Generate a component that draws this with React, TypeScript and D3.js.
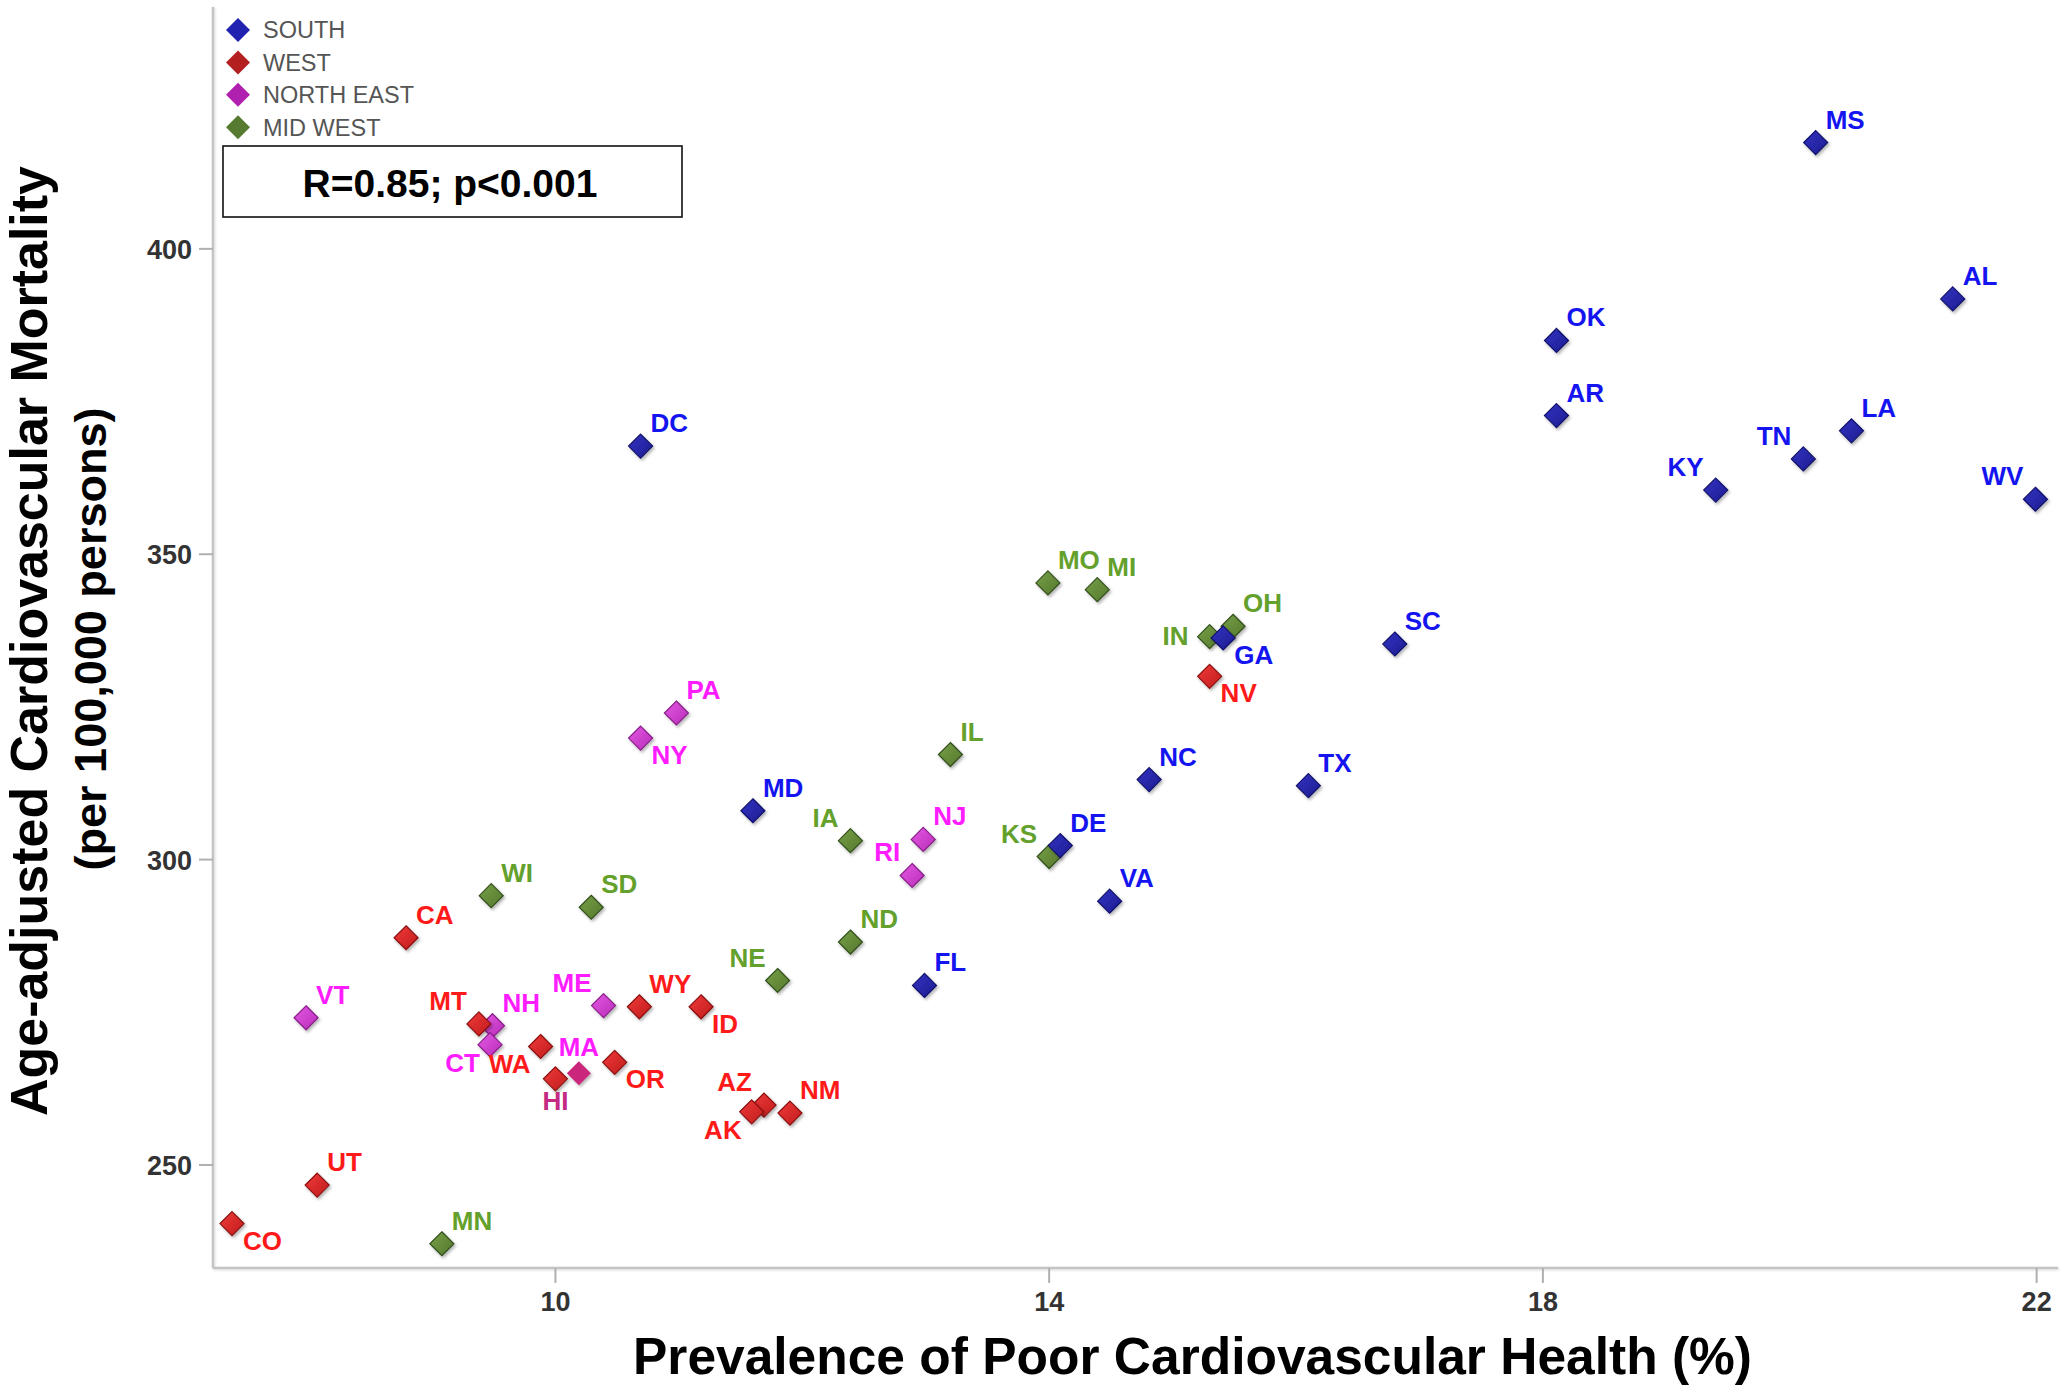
import React from "react";
import * as d3 from "d3";

// ---------- DATA ----------
const regions = ["SOUTH", "WEST", "NORTH EAST", "MID WEST"];

const southStates = ["MS", "AL", "OK", "AR", "LA", "TN", "KY", "WV", "DC", "SC", "GA", "NC", "TX", "DE", "VA", "MD", "FL"];
const southPrevalence = [20.21, 21.32, 18.11, 18.11, 20.5, 20.11, 19.4, 21.99, 10.69, 16.8, 15.41, 14.81, 16.1, 14.09, 14.49, 11.6, 12.99];
const southMortality = [417.4, 391.8, 385.0, 372.7, 370.2, 365.6, 360.5, 359.0, 367.7, 335.3, 336.3, 313.1, 312.1, 302.3, 293.2, 308.0, 279.4];

const westStates = ["NV", "CA", "MT", "WA", "HI", "WY", "ID", "OR", "AZ", "AK", "NM", "UT", "CO"];
const westPrevalence = [15.3, 8.79, 9.38, 9.88, 10.0, 10.68, 11.18, 10.48, 11.69, 11.59, 11.9, 8.07, 7.38];
const westMortality = [330.0, 287.2, 273.1, 269.4, 264.1, 275.9, 275.9, 266.8, 259.8, 258.7, 258.5, 246.7, 240.4];

const northEastStates = ["VT", "NH", "CT", "MA", "ME", "PA", "NY", "NJ", "RI"];
const northEastPrevalence = [7.98, 9.49, 9.47, 10.19, 10.39, 10.98, 10.69, 12.98, 12.89];
const northEastMortality = [274.1, 272.8, 269.7, 265.0, 276.1, 324.0, 319.9, 303.3, 297.4];

const midWestStates = ["MO", "MI", "IN", "OH", "IL", "IA", "KS", "WI", "SD", "ND", "NE", "MN"];
const midWestPrevalence = [13.99, 14.39, 15.3, 15.49, 13.2, 12.39, 14.0, 9.48, 10.29, 12.39, 11.8, 9.08];
const midWestMortality = [345.3, 344.2, 336.5, 338.2, 317.2, 303.1, 300.5, 294.1, 292.2, 286.5, 280.2, 237.1];

const xTicks = [10, 14, 18, 22];
const yTicks = [250, 300, 350, 400];

const xTitle = "Prevalence of Poor Cardiovascular Health (%)";
const yTitle1 = "Age-adjusted Cardiovascular Mortality";
const yTitle2 = "(per 100,000 persons)";
const statText = "R=0.85; p<0.001";

// ---------- LAYOUT / STYLE ----------
const W = 2070;
const H = 1387;
const FONT = "'Liberation Sans', Arial, Helvetica, sans-serif";

const regionStyle: Record<string, { light: string; dark: string; edge: string; label: string; legend: string }> = {
  SOUTH: { light: "#3434c4", dark: "#1c1c90", edge: "#12126a", label: "#1414f0", legend: "#2222b0" },
  WEST: { light: "#f03a3a", dark: "#c01c1c", edge: "#8a1212", label: "#ff1a1a", legend: "#b42020" },
  "NORTH EAST": { light: "#e45ae4", dark: "#b82cb8", edge: "#8a1e8a", label: "#ff1cff", legend: "#b020b0" },
  "MID WEST": { light: "#78a048", dark: "#54782c", edge: "#33501c", label: "#64a02c", legend: "#557a30" },
};

const fillOverride: Record<string, string> = { MA: "#c9287c" };
const labelColorOverride: Record<string, string> = { HI: "#c42a82" };

const sides: Record<string, { dx: number; dy: number; anchor: string }> = {
  ne: { dx: 10, dy: -14, anchor: "start" },
  nw: { dx: -12, dy: -14, anchor: "end" },
  se: { dx: 11, dy: 26, anchor: "start" },
  sw: { dx: -10, dy: 27, anchor: "end" },
  n: { dx: 0, dy: -17, anchor: "middle" },
  s: { dx: 0, dy: 31, anchor: "middle" },
  w: { dx: -21, dy: 8, anchor: "end" },
};
const labelSide: Record<string, string> = {
  IA: "nw", RI: "nw", NE: "nw", MT: "nw", ME: "nw", AZ: "nw", KS: "nw", TN: "nw", KY: "nw", WV: "nw",
  NY: "se", ID: "se", OR: "se", CO: "se", GA: "se", NV: "se",
  CT: "sw", WA: "sw", AK: "sw",
  MA: "n", HI: "s", IN: "w",
};

const plot = { left: 213, right: 2058, top: 7, bottom: 1268 };

type Pt = { state: string; x: number; y: number; region: string };

function build(region: string, s: string[], xs: number[], ys: number[]): Pt[] {
  return s.map((st, i) => ({ state: st, x: xs[i], y: ys[i], region }));
}

const points: Pt[] = [
  ...build("MID WEST", midWestStates, midWestPrevalence, midWestMortality),
  ...build("NORTH EAST", northEastStates, northEastPrevalence, northEastMortality),
  ...build("WEST", westStates, westPrevalence, westMortality),
  ...build("SOUTH", southStates, southPrevalence, southMortality),
];

const R = 12;
const diamond = `M0,${-R}L${R},0L0,${R}L${-R},0Z`;

export default function App() {
  const x = d3.scaleLinear().domain([7.226, 22.173]).range([plot.left, plot.right]);
  const y = d3.scaleLinear().domain([233.13, 439.6]).range([plot.bottom, plot.top]);

  const gradId = (r: string) => "g-" + r.replace(/\s/g, "");

  // draw MA/HI so MA sits on top
  const ordered = [...points].sort((a, b) => (a.state === "MA" ? 1 : 0) - (b.state === "MA" ? 1 : 0));

  return (
    <svg
      width={W}
      height={H}
      viewBox={`0 0 ${W} ${H}`}
      style={{ position: "absolute", left: 0, top: 0, background: "#fff" }}
      fontFamily={FONT}
    >
      <defs>
        {regions.map((r) => (
          <linearGradient key={r} id={gradId(r)} x1="0" y1="0" x2="1" y2="1">
            <stop offset="0" stopColor={regionStyle[r].light} />
            <stop offset="1" stopColor={regionStyle[r].dark} />
          </linearGradient>
        ))}
        <filter id="shadow" x="-50%" y="-50%" width="200%" height="200%">
          <feDropShadow dx="1.5" dy="2" stdDeviation="1.6" floodColor="#000" floodOpacity="0.3" />
        </filter>
        <filter id="axshadow" x="-50%" y="-5%" width="200%" height="110%">
          <feDropShadow dx="1" dy="1" stdDeviation="0.8" floodColor="#000" floodOpacity="0.15" />
        </filter>
      </defs>
      <rect x={0} y={0} width={W} height={H} fill="#fff" />

      {/* axes */}
      <g filter="url(#axshadow)">
        <line x1={plot.left} x2={plot.left} y1={plot.top} y2={plot.bottom} stroke="#c4c4c4" strokeWidth={2.5} />
        <line x1={plot.left} x2={plot.right} y1={plot.bottom} y2={plot.bottom} stroke="#c4c4c4" strokeWidth={2.5} />
      </g>
      {yTicks.map((t) => (
        <g key={"yt" + t}>
          <line x1={plot.left - 14} x2={plot.left} y1={y(t)} y2={y(t)} stroke="#b0b0b0" strokeWidth={2} />
          <text x={192} y={y(t) + 10} textAnchor="end" fontSize={27} fontWeight="bold" fill="#333">
            {t}
          </text>
        </g>
      ))}
      {xTicks.map((t) => (
        <g key={"xt" + t}>
          <line x1={x(t)} x2={x(t)} y1={plot.bottom} y2={plot.bottom + 15} stroke="#b0b0b0" strokeWidth={2} />
          <text x={x(t)} y={1310.7} textAnchor="middle" fontSize={27} fontWeight="bold" fill="#333">
            {t}
          </text>
        </g>
      ))}

      {/* axis titles */}
      <text x={633} y={1374} fontSize={52} fontWeight="bold" fill="#000" textLength={1119} lengthAdjust="spacingAndGlyphs">
        {xTitle}
      </text>
      <text
        transform={`translate(47,641) rotate(-90)`}
        textAnchor="middle"
        fontSize={52}
        fontWeight="bold"
        fill="#000"
        textLength={950}
        lengthAdjust="spacingAndGlyphs"
      >
        {yTitle1}
      </text>
      <text
        transform={`translate(105.5,639) rotate(-90)`}
        textAnchor="middle"
        fontSize={45}
        fontWeight="bold"
        fill="#000"
        textLength={463}
        lengthAdjust="spacingAndGlyphs"
      >
        {yTitle2}
      </text>

      {/* legend */}
      {regions.map((r, i) => {
        const cy = 30 + i * 32.4;
        return (
          <g key={"lg" + r}>
            <path d={diamond} transform={`translate(238,${cy})`} fill={regionStyle[r].legend} />
            <text x={263} y={cy + 8.4} fontSize={23.5} fill="#555">
              {r}
            </text>
          </g>
        );
      })}
      <rect x={223} y={146} width={459} height={71} fill="#fff" stroke="#111" strokeWidth={1.6} />
      <text x={450} y={196.7} textAnchor="middle" fontSize={39} fontWeight="bold" fill="#000">
        {statText}
      </text>

      {/* points */}
      {ordered.map((p) => (
        <path
          key={"pt" + p.state}
          d={diamond}
          transform={`translate(${x(p.x)},${y(p.y)})`}
          fill={fillOverride[p.state] || `url(#${gradId(p.region)})`}
          stroke={fillOverride[p.state] ? "none" : regionStyle[p.region].edge}
          strokeWidth={1.2}
          filter="url(#shadow)"
        />
      ))}

      {/* labels */}
      {points.map((p) => {
        const s = sides[labelSide[p.state] || "ne"];
        return (
          <text
            key={"lb" + p.state}
            x={x(p.x) + s.dx}
            y={y(p.y) + s.dy}
            textAnchor={s.anchor}
            fontSize={26}
            fontWeight="bold"
            fill={labelColorOverride[p.state] || regionStyle[p.region].label}
          >
            {p.state}
          </text>
        );
      })}
    </svg>
  );
}
